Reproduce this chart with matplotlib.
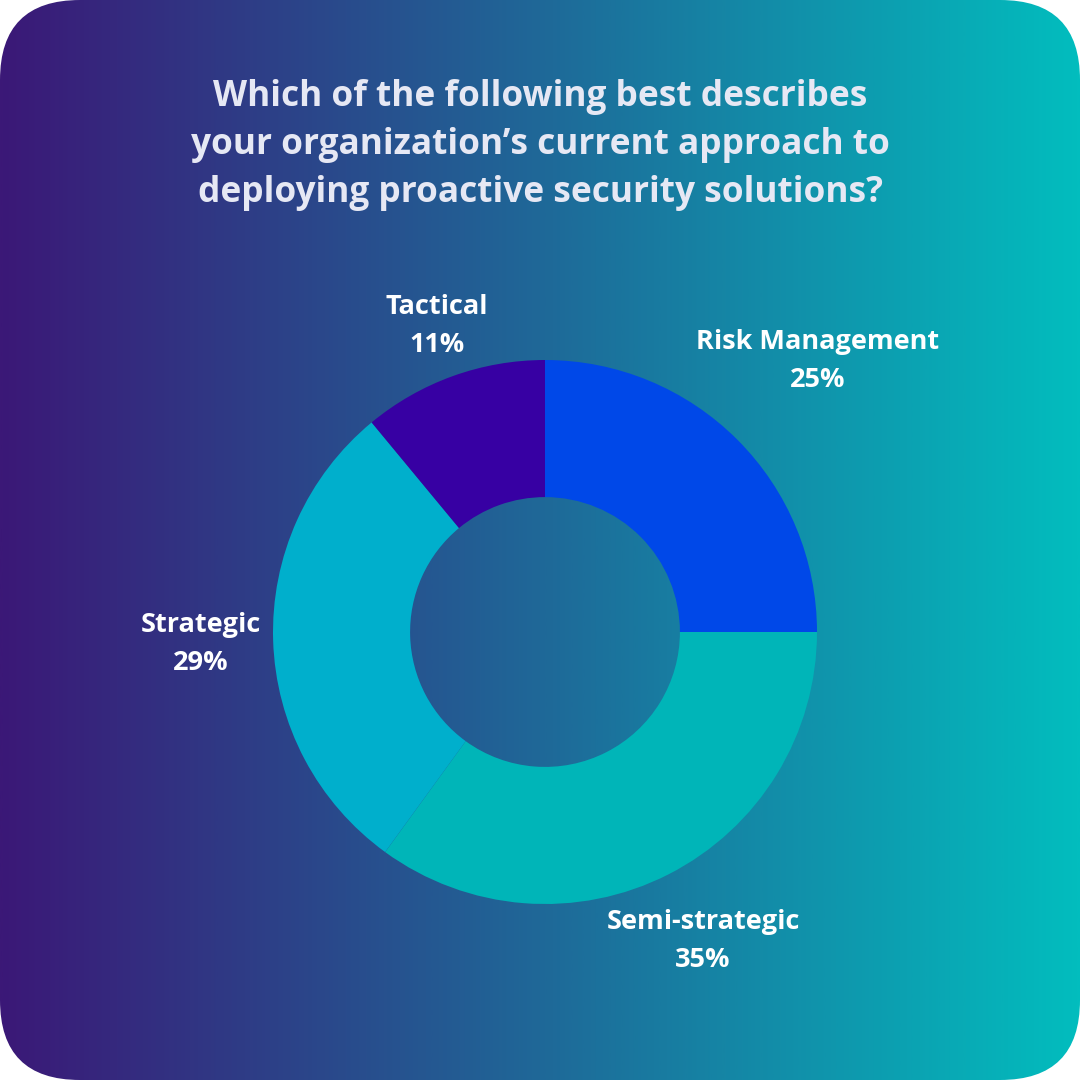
import numpy as np
import matplotlib
matplotlib.use("Agg")
import matplotlib.pyplot as plt
from matplotlib.patches import FancyBboxPatch
from matplotlib.colors import LinearSegmentedColormap

# Data
categories = ["Risk Management", "Semi-strategic", "Strategic", "Tactical"]
values = [25, 35, 29, 11]
colors = ["#0048E8", "#00B5B8", "#00AFCC", "#3700A3"]
title = ("Which of the following best describes\n"
         "your organization\u2019s current approach to\n"
         "deploying proactive security solutions?")

W = H = 1080
fig = plt.figure(figsize=(10.8, 10.8), dpi=100)
fig.patch.set_facecolor("white")

# Background with gradient and rounded corners
bg = fig.add_axes([0, 0, 1, 1])
bg.set_xlim(0, W)
bg.set_ylim(H, 0)
bg.axis("off")
cmap = LinearSegmentedColormap.from_list("g", ["#3B1877", "#1F6898", "#02BDBE"])
grad = np.linspace(0, 1, 512).reshape(1, -1)
im = bg.imshow(grad, cmap=cmap, extent=[0, W, H, 0], aspect="auto", zorder=0)
clip = FancyBboxPatch((0, 0), W, H, boxstyle="round,pad=0,rounding_size=80",
                      transform=bg.transData, facecolor="none", edgecolor="none")
bg.add_patch(clip)
im.set_clip_path(clip)

# Title
bg.text(540, 145, title, ha="center", va="center", fontsize=25.4, fontweight="bold",
        family="Open Sans", color="#E6E8F4", linespacing=1.45)

# Donut
cx, cy, R = 545, 632, 272
ax = fig.add_axes([(cx - R) / W, 1 - (cy + R) / H, 2 * R / W, 2 * R / H])
ax.pie(values, colors=colors, startangle=90, counterclock=False, radius=1,
       wedgeprops=dict(width=0.504, linewidth=0))
ax.set_xlim(-1, 1)
ax.set_ylim(-1, 1)
ax.set_aspect("equal")
ax.axis("off")

# Labels
label_pos = {"Risk Management": (818, 361), "Semi-strategic": (703, 941),
             "Strategic": (201, 644), "Tactical": (437, 326)}
for cat, v in zip(categories, values):
    x, y = label_pos[cat]
    bg.text(x, y, f"{cat}\n{v}%", ha="center", va="center", fontsize=19.5,
            fontweight="bold", family="Open Sans", color="white", linespacing=1.58)

fig.savefig("out.png", dpi=100)
